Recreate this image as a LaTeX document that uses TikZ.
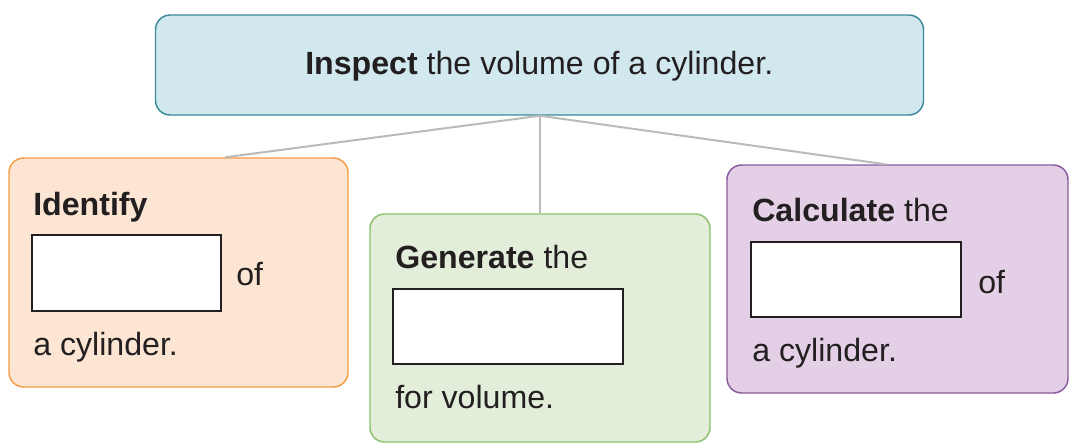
\documentclass[tikz,border=0pt]{standalone}
\usepackage{fontspec}
\setmainfont{Liberation Sans}
\definecolor{txt}{HTML}{231F20}
\definecolor{topfill}{HTML}{D1E8EF}
\definecolor{topdraw}{HTML}{3A8A97}
\definecolor{lfill}{HTML}{FCE6D3}
\definecolor{ldraw}{HTML}{F39C45}
\definecolor{mfill}{HTML}{E3EEDA}
\definecolor{mdraw}{HTML}{8CC06B}
\definecolor{rfill}{HTML}{E4D0E6}
\definecolor{rdraw}{HTML}{8B5A9E}
\definecolor{conn}{HTML}{BBBBBB}
\tikzset{
  card/.style={rounded corners=11pt, line width=1.1pt, inner sep=0pt},
  blank/.style={draw=txt, fill=white, line width=2.2pt, inner sep=0pt},
  label/.style={anchor=mid west, inner sep=0pt, text=txt, font=\fontsize{24.1}{29}\selectfont},
  link/.style={draw=conn, line width=1.5pt}
}
\begin{document}
\begin{tikzpicture}[x=0.75pt,y=-0.75pt]
\useasboundingbox (0,0) rectangle (1070,444);
% cards
\node[card, draw=topdraw, fill=topfill, minimum width=576pt, minimum height=75pt] (top) at (539.5,65) {};
\node[card, draw=ldraw, fill=lfill, minimum width=254.25pt, minimum height=171.75pt] (left) at (178.5,272.5) {};
\node[card, draw=mdraw, fill=mfill, minimum width=255pt, minimum height=171pt] (mid) at (540,328) {};
\node[card, draw=rdraw, fill=rfill, minimum width=255.75pt, minimum height=171pt] (right) at (897.5,279) {};
% connectors
\coordinate (hub) at (top.south -| mid.north);
\draw[link] (hub) -- ([xshift=35pt]left.north);
\draw[link] (hub) -- (mid.north);
\draw[link] (hub) -- ([xshift=-9pt]right.north);
% texts
\node[label] (ttop) at (305,71) {\textbf{Inspect} the volume of a cylinder.};
\node[label] (l1) at (33,212) {\textbf{Identify}};
\node[blank, minimum width=141.75pt, minimum height=57pt] (lb) at (126.5,273) {};
\node[label] (l2) at (236,282) {of};
\node[label] (l3) at (33,352) {a cylinder.};
\node[label] (m1) at (395,265) {\textbf{Generate} the};
\node[blank, minimum width=172.5pt, minimum height=56.25pt] (mb) at (508,326.5) {};
\node[label] (m2) at (395,405) {for volume.};
\node[label] (r1) at (752,218) {\textbf{Calculate} the};
\node[blank, minimum width=157.5pt, minimum height=56.25pt] (rb) at (856,279.5) {};
\node[label] (r2) at (978,290) {of};
\node[label] (r3) at (752,358) {a cylinder.};
\end{tikzpicture}
\end{document}
